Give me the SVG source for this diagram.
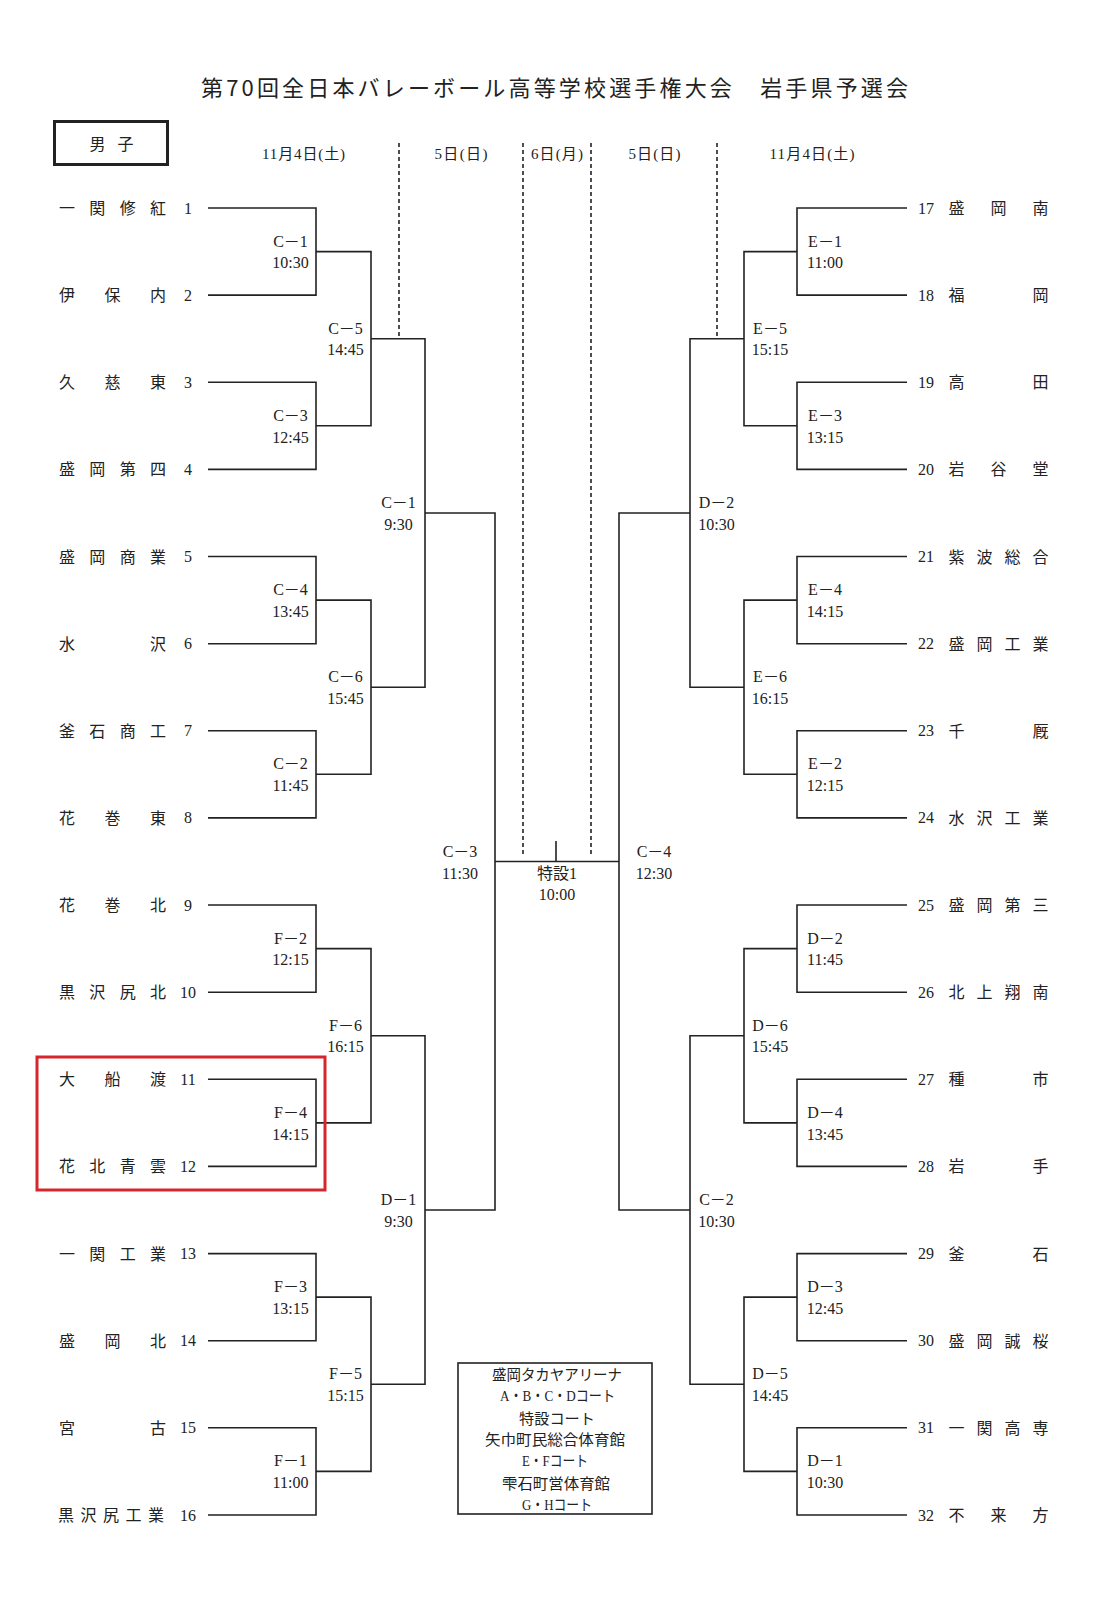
<svg xmlns="http://www.w3.org/2000/svg" width="1108" height="1600" viewBox="0 0 1108 1600">
<style>
text{fill:#222;}
.jp{font-family:"Noto Sans CJK JP","Liberation Serif",sans-serif;font-size:16px;}
.nm{font-family:"Noto Sans CJK JP",sans-serif;font-size:16px;text-anchor:middle;}
.num{font-family:"Liberation Serif","Noto Sans CJK JP",serif;font-size:16px;text-anchor:middle;}
.lb{font-family:"Liberation Serif","Noto Sans CJK JP",serif;font-size:16px;text-anchor:middle;}
.hd{font-family:"Liberation Serif","Noto Sans CJK JP",serif;font-size:15px;text-anchor:middle;}
.lg{font-family:"Liberation Serif","Noto Sans CJK JP",serif;font-size:15px;text-anchor:middle;}
.br{fill:none;stroke:#222;stroke-width:1.6;}
.dash{fill:none;stroke:#222;stroke-width:1.6;stroke-dasharray:4 3;}
</style>
<rect width="1108" height="1600" fill="#fff"/>
<g id="title">
<text x="554.5" y="96" font-family="Noto Sans CJK JP, sans-serif" font-size="22" text-anchor="middle" textLength="707" lengthAdjust="spacing">第70回全日本バレーボール高等学校選手権大会　岩手県予選会</text>
</g>
<g id="category">
<rect x="54.5" y="121.5" width="113" height="43" fill="none" stroke="#222" stroke-width="3"/>
<text class="nm" x="97.5 125.5" y="149.5" font-size="17">男子</text>
</g>
<g id="headers">
<text class="hd" x="303.5" y="159" textLength="83" lengthAdjust="spacing">11月4日(土)</text>
<text class="hd" x="461" y="159" textLength="53" lengthAdjust="spacing">5日(日)</text>
<text class="hd" x="557" y="159" textLength="52" lengthAdjust="spacing">6日(月)</text>
<text class="hd" x="654.5" y="159" textLength="52" lengthAdjust="spacing">5日(日)</text>
<text class="hd" x="812" y="159" textLength="85" lengthAdjust="spacing">11月4日(土)</text>
</g>
<g id="connectors">
<path class="dash" d="M399 143V338.7M523 143V857M591 143V857M717 143V338.7"/>
<path class="br" d="M208 208H316V295.1H208M208 382.3H316V469.4H208M208 556.5H316V643.7H208M208 730.8H316V817.9H208M208 905H316V992.2H208M208 1079.3H316V1166.4H208M208 1253.6H316V1340.7H208M208 1427.8H316V1515H208"/>
<path class="br" d="M316 251.6H371V425.8H316M316 600.1H371V774.3H316M316 948.6H371V1122.9H316M316 1297.1H371V1471.4H316"/>
<path class="br" d="M371 338.7H425V687.2H371M371 1035.7H425V1384.3H371"/>
<path class="br" d="M425 513H495V1210H425"/>
<path class="br" d="M495 861.5H619M556 841V861.5"/>
<path class="br" d="M690 513H619V1210H690"/>
<path class="br" d="M744 338.7H690V687.2H744M744 1035.7H690V1384.3H744"/>
<path class="br" d="M797 251.6H744V425.8H797M797 600.1H744V774.3H797M797 948.6H744V1122.9H797M797 1297.1H744V1471.4H797"/>
<path class="br" d="M907 208H797V295.1H907M907 382.3H797V469.4H907M907 556.5H797V643.7H907M907 730.8H797V817.9H907M907 905H797V992.2H907M907 1079.3H797V1166.4H907M907 1253.6H797V1340.7H907M907 1427.8H797V1515H907"/>
</g>
<g id="team-1"><text class="nm" x="67 97.3 127.7 158" y="214">一関修紅</text><text class="num" x="188" y="213.5">1</text></g>
<g id="team-2"><text class="nm" x="67 112.5 158" y="301.1">伊保内</text><text class="num" x="188" y="300.6">2</text></g>
<g id="team-3"><text class="nm" x="67 112.5 158" y="388.3">久慈東</text><text class="num" x="188" y="387.8">3</text></g>
<g id="team-4"><text class="nm" x="67 97.3 127.7 158" y="475.4">盛岡第四</text><text class="num" x="188" y="474.9">4</text></g>
<g id="team-5"><text class="nm" x="67 97.3 127.7 158" y="562.5">盛岡商業</text><text class="num" x="188" y="562">5</text></g>
<g id="team-6"><text class="nm" x="67 158" y="649.7">水沢</text><text class="num" x="188" y="649.2">6</text></g>
<g id="team-7"><text class="nm" x="67 97.3 127.7 158" y="736.8">釜石商工</text><text class="num" x="188" y="736.3">7</text></g>
<g id="team-8"><text class="nm" x="67 112.5 158" y="823.9">花巻東</text><text class="num" x="188" y="823.4">8</text></g>
<g id="team-9"><text class="nm" x="67 112.5 158" y="911">花巻北</text><text class="num" x="188" y="910.5">9</text></g>
<g id="team-10"><text class="nm" x="67 97.3 127.7 158" y="998.2">黒沢尻北</text><text class="num" x="188" y="997.7">10</text></g>
<g id="team-11"><text class="nm" x="67 112.5 158" y="1085.3">大船渡</text><text class="num" x="188" y="1084.8">11</text></g>
<g id="team-12"><text class="nm" x="67 97.3 127.7 158" y="1172.4">花北青雲</text><text class="num" x="188" y="1171.9">12</text></g>
<g id="team-13"><text class="nm" x="67 97.3 127.7 158" y="1259.6">一関工業</text><text class="num" x="188" y="1259.1">13</text></g>
<g id="team-14"><text class="nm" x="67 112.5 158" y="1346.7">盛岡北</text><text class="num" x="188" y="1346.2">14</text></g>
<g id="team-15"><text class="nm" x="67 158" y="1433.8">宮古</text><text class="num" x="188" y="1433.3">15</text></g>
<g id="team-16"><text class="nm" x="66 88.5 111 133.5 156" y="1521">黒沢尻工業</text><text class="num" x="188" y="1520.5">16</text></g>
<g id="team-17"><text class="num" x="926" y="213.5">17</text><text class="nm" x="956.5 998.5 1040.5" y="214">盛岡南</text></g>
<g id="team-18"><text class="num" x="926" y="300.6">18</text><text class="nm" x="956.5 1040.5" y="301.1">福岡</text></g>
<g id="team-19"><text class="num" x="926" y="387.8">19</text><text class="nm" x="956.5 1040.5" y="388.3">高田</text></g>
<g id="team-20"><text class="num" x="926" y="474.9">20</text><text class="nm" x="956.5 998.5 1040.5" y="475.4">岩谷堂</text></g>
<g id="team-21"><text class="num" x="926" y="562">21</text><text class="nm" x="956.5 984.5 1012.5 1040.5" y="562.5">紫波総合</text></g>
<g id="team-22"><text class="num" x="926" y="649.2">22</text><text class="nm" x="956.5 984.5 1012.5 1040.5" y="649.7">盛岡工業</text></g>
<g id="team-23"><text class="num" x="926" y="736.3">23</text><text class="nm" x="956.5 1040.5" y="736.8">千厩</text></g>
<g id="team-24"><text class="num" x="926" y="823.4">24</text><text class="nm" x="956.5 984.5 1012.5 1040.5" y="823.9">水沢工業</text></g>
<g id="team-25"><text class="num" x="926" y="910.5">25</text><text class="nm" x="956.5 984.5 1012.5 1040.5" y="911">盛岡第三</text></g>
<g id="team-26"><text class="num" x="926" y="997.7">26</text><text class="nm" x="956.5 984.5 1012.5 1040.5" y="998.2">北上翔南</text></g>
<g id="team-27"><text class="num" x="926" y="1084.8">27</text><text class="nm" x="956.5 1040.5" y="1085.3">種市</text></g>
<g id="team-28"><text class="num" x="926" y="1171.9">28</text><text class="nm" x="956.5 1040.5" y="1172.4">岩手</text></g>
<g id="team-29"><text class="num" x="926" y="1259.1">29</text><text class="nm" x="956.5 1040.5" y="1259.6">釜石</text></g>
<g id="team-30"><text class="num" x="926" y="1346.2">30</text><text class="nm" x="956.5 984.5 1012.5 1040.5" y="1346.7">盛岡誠桜</text></g>
<g id="team-31"><text class="num" x="926" y="1433.3">31</text><text class="nm" x="956.5 984.5 1012.5 1040.5" y="1433.8">一関高専</text></g>
<g id="team-32"><text class="num" x="926" y="1520.5">32</text><text class="nm" x="956.5 998.5 1040.5" y="1521">不来方</text></g>
<g id="matches-left">
<g id="m-l-c1"><text class="lb" x="290.5" y="246.6">C－1</text><text class="lb" x="290.5" y="268.3">10:30</text></g>
<g id="m-l-c3"><text class="lb" x="290.5" y="420.8">C－3</text><text class="lb" x="290.5" y="442.5">12:45</text></g>
<g id="m-l-c4"><text class="lb" x="290.5" y="595.1">C－4</text><text class="lb" x="290.5" y="616.8">13:45</text></g>
<g id="m-l-c2"><text class="lb" x="290.5" y="769.3">C－2</text><text class="lb" x="290.5" y="791">11:45</text></g>
<g id="m-l-f2"><text class="lb" x="290.5" y="943.6">F－2</text><text class="lb" x="290.5" y="965.3">12:15</text></g>
<g id="m-l-f4"><text class="lb" x="290.5" y="1117.9">F－4</text><text class="lb" x="290.5" y="1139.6">14:15</text></g>
<g id="m-l-f3"><text class="lb" x="290.5" y="1292.1">F－3</text><text class="lb" x="290.5" y="1313.8">13:15</text></g>
<g id="m-l-f1"><text class="lb" x="290.5" y="1466.4">F－1</text><text class="lb" x="290.5" y="1488.1">11:00</text></g>
<g id="m-l-c5"><text class="lb" x="345.5" y="333.7">C－5</text><text class="lb" x="345.5" y="355.4">14:45</text></g>
<g id="m-l-c6"><text class="lb" x="345.5" y="682.2">C－6</text><text class="lb" x="345.5" y="703.9">15:45</text></g>
<g id="m-l-f6"><text class="lb" x="345.5" y="1030.7">F－6</text><text class="lb" x="345.5" y="1052.4">16:15</text></g>
<g id="m-l-f5"><text class="lb" x="345.5" y="1379.3">F－5</text><text class="lb" x="345.5" y="1401">15:15</text></g>
<g id="m-l-c1b"><text class="lb" x="398.5" y="508">C－1</text><text class="lb" x="398.5" y="529.7">9:30</text></g>
<g id="m-l-d1"><text class="lb" x="398.5" y="1205">D－1</text><text class="lb" x="398.5" y="1226.7">9:30</text></g>
<g id="m-l-c3b"><text class="lb" x="460" y="856.8">C－3</text><text class="lb" x="460" y="878.5">11:30</text></g>
</g>
<g id="final"><text class="lb" x="557" y="879">特設1</text><text class="lb" x="557" y="900">10:00</text></g>
<g id="matches-right">
<g id="m-r-c4"><text class="lb" x="654" y="856.8">C－4</text><text class="lb" x="654" y="878.5">12:30</text></g>
<g id="m-r-d2b"><text class="lb" x="716.5" y="508">D－2</text><text class="lb" x="716.5" y="529.7">10:30</text></g>
<g id="m-r-c2"><text class="lb" x="716.5" y="1205">C－2</text><text class="lb" x="716.5" y="1226.7">10:30</text></g>
<g id="m-r-e5"><text class="lb" x="770" y="333.7">E－5</text><text class="lb" x="770" y="355.4">15:15</text></g>
<g id="m-r-e6"><text class="lb" x="770" y="682.2">E－6</text><text class="lb" x="770" y="703.9">16:15</text></g>
<g id="m-r-d6"><text class="lb" x="770" y="1030.7">D－6</text><text class="lb" x="770" y="1052.4">15:45</text></g>
<g id="m-r-d5"><text class="lb" x="770" y="1379.3">D－5</text><text class="lb" x="770" y="1401">14:45</text></g>
<g id="m-r-e1"><text class="lb" x="825" y="246.6">E－1</text><text class="lb" x="825" y="268.3">11:00</text></g>
<g id="m-r-e3"><text class="lb" x="825" y="420.8">E－3</text><text class="lb" x="825" y="442.5">13:15</text></g>
<g id="m-r-e4"><text class="lb" x="825" y="595.1">E－4</text><text class="lb" x="825" y="616.8">14:15</text></g>
<g id="m-r-e2"><text class="lb" x="825" y="769.3">E－2</text><text class="lb" x="825" y="791">12:15</text></g>
<g id="m-r-d2"><text class="lb" x="825" y="943.6">D－2</text><text class="lb" x="825" y="965.3">11:45</text></g>
<g id="m-r-d4"><text class="lb" x="825" y="1117.9">D－4</text><text class="lb" x="825" y="1139.6">13:45</text></g>
<g id="m-r-d3"><text class="lb" x="825" y="1292.1">D－3</text><text class="lb" x="825" y="1313.8">12:45</text></g>
<g id="m-r-d1"><text class="lb" x="825" y="1466.4">D－1</text><text class="lb" x="825" y="1488.1">10:30</text></g>
</g>
<g id="legend">
<rect x="458" y="1363" width="194" height="151" fill="none" stroke="#222" stroke-width="1.6"/>
<text class="lg" x="557" y="1379.5" textLength="130" lengthAdjust="spacingAndGlyphs">盛岡タカヤアリーナ</text>
<text class="lg" x="557.5" y="1400.5" textLength="115" lengthAdjust="spacingAndGlyphs">A・B・C・Dコート</text>
<text class="lg" x="557" y="1423.5" textLength="76" lengthAdjust="spacingAndGlyphs">特設コート</text>
<text class="lg" x="555" y="1444.5" textLength="140" lengthAdjust="spacingAndGlyphs">矢巾町民総合体育館</text>
<text class="lg" x="555" y="1465.5" textLength="66" lengthAdjust="spacingAndGlyphs">E・Fコート</text>
<text class="lg" x="556" y="1488.5" textLength="108" lengthAdjust="spacingAndGlyphs">雫石町営体育館</text>
<text class="lg" x="557" y="1509.5" textLength="70" lengthAdjust="spacingAndGlyphs">G・Hコート</text>
</g>
<g id="highlight">
<rect x="37" y="1057" width="288" height="133" fill="none" stroke="#d6262d" stroke-width="3"/>
</g>
</svg>
